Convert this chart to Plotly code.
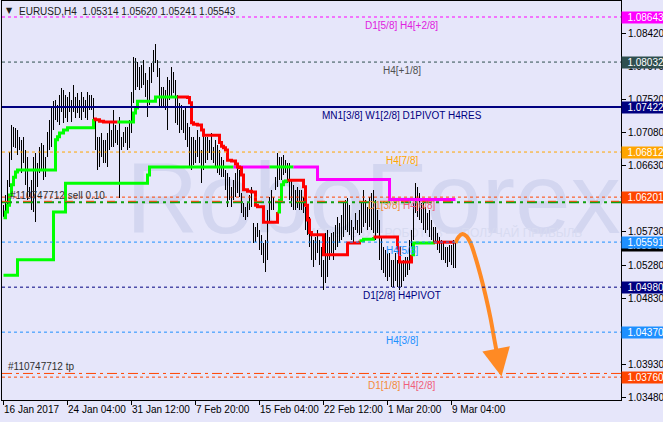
import plotly.graph_objects as go

# ---------------- data ----------------
header_text = "EURUSD,H4 \u00a01.05314 1.05620 1.05241 1.05543"

# H4 bars, one per 4 hours, first bar = 16 Jan 2017 20:00
highs = [
    1.0609, 1.0623, 1.0643, 1.0681, 1.0718, 1.0715, 1.0714, 1.0711, 1.0702, 1.0698,
    1.0702, 1.0684, 1.0674, 1.0634, 1.0643, 1.0674, 1.0680, 1.0666, 1.0688, 1.0694,
    1.0691, 1.0674, 1.0708, 1.0725, 1.0742, 1.0750, 1.0752, 1.0745, 1.0759, 1.0768,
    1.0765, 1.0759, 1.0756, 1.0763, 1.0752, 1.0772, 1.0756, 1.0761, 1.0752, 1.0763,
    1.0756, 1.0752, 1.0763, 1.0759, 1.0759, 1.0755, 1.0727, 1.0702, 1.0702, 1.0707,
    1.0698, 1.0698, 1.0707, 1.0721, 1.0711, 1.0738, 1.0718, 1.0711, 1.0729, 1.0702,
    1.0708, 1.0715, 1.0715, 1.0725, 1.0763, 1.0810, 1.0809, 1.0803, 1.0797, 1.0799,
    1.0806, 1.0788, 1.0779, 1.0797, 1.0802, 1.0820, 1.0828, 1.0806, 1.0795, 1.0769,
    1.0769, 1.0765, 1.0783, 1.0779, 1.0797, 1.0790, 1.0779, 1.0759, 1.0748, 1.0745,
    1.0738, 1.0742, 1.0721, 1.0715, 1.0702, 1.0702, 1.0698, 1.0711, 1.0702, 1.0684,
    1.0711, 1.0702, 1.0702, 1.0698, 1.0707, 1.0688, 1.0698, 1.0691, 1.0684, 1.0674,
    1.0670, 1.0657, 1.0653, 1.0647, 1.0634, 1.0643, 1.0653, 1.0661, 1.0657, 1.0626,
    1.0612, 1.0607, 1.0612, 1.0623, 1.0634, 1.0585, 1.0580, 1.0585, 1.0576, 1.0569,
    1.0558, 1.0562, 1.0603, 1.0620, 1.0630, 1.0620, 1.0647, 1.0680, 1.0674, 1.0674,
    1.0677, 1.0670, 1.0666, 1.0666, 1.0643, 1.0637, 1.0630, 1.0634, 1.0630, 1.0630,
    1.0620, 1.0607, 1.0603, 1.0593, 1.0572, 1.0562, 1.0566, 1.0576, 1.0562, 1.0552,
    1.0535, 1.0572, 1.0576, 1.0566, 1.0572, 1.0573, 1.0582, 1.0593, 1.0585, 1.0596,
    1.0612, 1.0616, 1.0619, 1.0609, 1.0589, 1.0580, 1.0599, 1.0589, 1.0603, 1.0612,
    1.0630, 1.0616, 1.0607, 1.0620, 1.0626, 1.0630, 1.0616, 1.0603, 1.0589, 1.0566,
    1.0552, 1.0548, 1.0544, 1.0544, 1.0535, 1.0535, 1.0544, 1.0535, 1.0531, 1.0531,
    1.0535, 1.0539, 1.0539, 1.0562, 1.0576, 1.0612, 1.0639, 1.0634, 1.0626, 1.0612,
    1.0616, 1.0607, 1.0599, 1.0603, 1.0589, 1.0580, 1.0580, 1.0572, 1.0566, 1.0562,
    1.0558, 1.0552, 1.0552, 1.0555, 1.0555, 1.0562, 1.05620,
]
lows = [
    1.0593, 1.0596, 1.0609, 1.0634, 1.0670, 1.0688, 1.0687, 1.0677, 1.0684, 1.0653,
    1.0666, 1.0637, 1.0616, 1.0620, 1.0603, 1.0600, 1.0586, 1.0634, 1.0653, 1.0657,
    1.0643, 1.0647, 1.0674, 1.0684, 1.0688, 1.0711, 1.0725, 1.0722, 1.0718, 1.0736,
    1.0721, 1.0727, 1.0722, 1.0736, 1.0722, 1.0736, 1.0727, 1.0734, 1.0727, 1.0725,
    1.0736, 1.0727, 1.0725, 1.0738, 1.0738, 1.0714, 1.0684, 1.0657, 1.0661, 1.0674,
    1.0666, 1.0666, 1.0661, 1.0684, 1.0688, 1.0688, 1.0694, 1.0691, 1.0619, 1.0684,
    1.0688, 1.0694, 1.0684, 1.0687, 1.0707, 1.0748, 1.0765, 1.0769, 1.0765, 1.0768,
    1.0772, 1.0756, 1.0729, 1.0745, 1.0775, 1.0790, 1.0802, 1.0783, 1.0741, 1.0742,
    1.0742, 1.0738, 1.0711, 1.0752, 1.0756, 1.0761, 1.0721, 1.0718, 1.0707, 1.0711,
    1.0707, 1.0698, 1.0688, 1.0661, 1.0657, 1.0664, 1.0666, 1.0674, 1.0666, 1.0639,
    1.0657, 1.0666, 1.0670, 1.0680, 1.0670, 1.0666, 1.0661, 1.0653, 1.0650, 1.0647,
    1.0647, 1.0630, 1.0607, 1.0616, 1.0607, 1.0616, 1.0620, 1.0626, 1.0620, 1.0599,
    1.0593, 1.0589, 1.0593, 1.0603, 1.0607, 1.0558, 1.0559, 1.0566, 1.0548, 1.0542,
    1.0531, 1.0519, 1.0535, 1.0585, 1.0603, 1.0603, 1.0630, 1.0634, 1.0643, 1.0643,
    1.0650, 1.0653, 1.0639, 1.0616, 1.0607, 1.0603, 1.0603, 1.0605, 1.0603, 1.0603,
    1.0599, 1.0576, 1.0569, 1.0552, 1.0535, 1.0525, 1.0535, 1.0544, 1.0528, 1.0512,
    1.0494, 1.0504, 1.0512, 1.0535, 1.0544, 1.0535, 1.0548, 1.0552, 1.0558, 1.0562,
    1.0566, 1.0576, 1.0573, 1.0569, 1.0562, 1.0558, 1.0576, 1.0572, 1.0569, 1.0572,
    1.0580, 1.0585, 1.0576, 1.0580, 1.0576, 1.0572, 1.0562, 1.0572, 1.0535, 1.0521,
    1.0517, 1.0512, 1.0507, 1.0512, 1.0498, 1.0498, 1.0507, 1.0498, 1.0494, 1.0498,
    1.0507, 1.0512, 1.0514, 1.0521, 1.0552, 1.0562, 1.0599, 1.0593, 1.0589, 1.0585,
    1.0576, 1.0572, 1.0576, 1.0566, 1.0562, 1.0558, 1.0558, 1.0548, 1.0544, 1.0535,
    1.0535, 1.0531, 1.0525, 1.0532, 1.0528, 1.0524, 1.05241,
]

date_tick_bars = [0, 32, 64, 96, 128, 160, 192, 224]
date_tick_labels = ["16 Jan 2017", "24 Jan 04:00", "31 Jan 12:00", "7 Feb 20:00",
                    "15 Feb 04:00", "22 Feb 12:00", "1 Mar 20:00", "9 Mar 04:00"]
price_ticks = [1.0842, 1.0797, 1.0752, 1.0708, 1.0663, 1.0618,
               1.0573, 1.0528, 1.0483, 1.0438, 1.0393, 1.0348]

# upper trend line (change points): bar index, value, state (g=up, r=down)
trend_bar = [0, 1, 2, 3, 4, 5, 6, 7, 26, 27, 28, 30, 32, 45, 46, 48, 50, 57, 65, 66, 67, 76,
             87, 92, 93, 94, 95, 97, 99, 100, 108, 109, 110, 111, 112, 114, 116, 117, 118,
             119, 120, 122, 124, 126, 127, 130, 137, 138, 139, 140, 141, 142, 150, 151, 152,
             153, 154, 160, 172, 178, 180, 185, 197, 198, 204, 205, 215, 226]
trend_val = [1.0592, 1.0600, 1.0609, 1.0623, 1.0637, 1.0647, 1.0654, 1.0657, 1.0698, 1.0702,
             1.0707, 1.0711, 1.0714, 1.0726, 1.0725, 1.0723, 1.0722, 1.0722, 1.0734, 1.0741,
             1.0750, 1.0756, 1.0756, 1.0755, 1.0748, 1.0721, 1.0719, 1.0718, 1.0711, 1.0704,
             1.0694, 1.0689, 1.0687, 1.0684, 1.0670, 1.0669, 1.0665, 1.0661, 1.0660, 1.0650,
             1.0630, 1.0628, 1.0627, 1.0609, 1.0607, 1.0586, 1.0600, 1.0616, 1.0637, 1.0641,
             1.0642, 1.0643, 1.0634, 1.0609, 1.0589, 1.0572, 1.0569, 1.0542, 1.0558, 1.0561,
             1.0563, 1.0566, 1.0551, 1.0532, 1.0542, 1.0558, 1.0559, 1.0559]
trend_state = list("gggggggggggggrrrrgggggrrrrrrrrrrrrrrrrrrrrrrrrgggggrrrrrrrrggrrrggrr")

# lower support line (change points)
support_bar = [0, 7, 25, 31, 72, 73, 115, 133, 145, 157, 193, 226]
support_val = [1.0514, 1.0535, 1.0600, 1.0639, 1.0650, 1.0661, 1.0661, 1.0661, 1.0661,
               1.0644, 1.0617, 1.0617]
support_state = list("ggggggmgmmmm")

# Murrey / pivot levels
level_prices = [1.08643, 1.08032, 1.07422, 1.06812, 1.06201, 1.05591, 1.04980, 1.04370, 1.03760]
level_names = [
    "D1[5/8] H4[+2/8]", "H4[+1/8]", "MN1[3/8] W1[2/8] D1PIVOT H4RES", "H4[7/8]",
    "D1[3/8] H4[6/8]", "H4[5/8]", "D1[2/8] H4PIVOT", "H4[3/8]", "D1[1/8] H4[2/8]",
]
current_price = 1.05543
order_open = 1.0613
order_tp = 1.0381
order_label = "#110747712 sell 0.10"
tp_label = "#110747712 tp"

# forecast arrow path (bar index, price)
forecast_bar = [226, 227.5, 229.5, 231.5, 233.5, 236, 238.5, 241, 243.5, 245.5, 246.4]
forecast_val = [1.0558, 1.0566, 1.0570, 1.0567, 1.0558, 1.0538, 1.0514, 1.0487, 1.0456, 1.0426, 1.0413]
forecast_tip = (249, 1.0377)

# ---------------- styles ----------------
BG = "#e6e6fa"
FONT = "Liberation Sans, Arial, sans-serif"
state_color = {"g": "#00ff00", "r": "#ff0000", "m": "#ff00ff"}
level_style = [
    dict(color="#ff00ff", dash="3px,3px", width=1, box="#ff00ff", text="#e020e0"),
    dict(color="#2f4f4f", dash="3px,3px", width=1, box="#2f4f4f", text="#505050"),
    dict(color="#000080", dash="solid", width=2, box="#000080", text="#000080"),
    dict(color="#ffa500", dash="3px,3px", width=1, box="#ffa500", text="#ffa500"),
    dict(color="#ff4500", dash="3px,3px", width=1, box="#ff4500", text=None),
    dict(color="#1e90ff", dash="3px,3px", width=1, box="#1e90ff", text="#1e90ff"),
    dict(color="#000080", dash="3px,3px", width=1, box="#000080", text="#000080"),
    dict(color="#1e90ff", dash="3px,3px", width=1, box="#1e90ff", text="#1e90ff"),
    dict(color="#ff4500", dash="3px,3px", width=1, box="#ff4500", text=None),
]

fig = go.Figure()

# watermark (below traces)
fig.add_shape(type="rect", xref="paper", yref="paper", x0=0.22, x1=0.98, y0=0.44, y1=0.62,
              line=dict(width=0), fillcolor="rgba(0,0,0,0)", layer="below",
              label=dict(text="RoboForex", textposition="middle center",
                         font=dict(size=100, color="#d3d6f0", family=FONT)))
fig.add_shape(type="rect", xref="paper", yref="paper", x0=0.45, x1=0.98, y0=0.40, y1=0.44,
              line=dict(width=0), fillcolor="rgba(0,0,0,0)", layer="below",
              label=dict(text="ИСПОЛЬЗУЙ РОБОТОВ — ПОЛУЧАЙ ПРИБЫЛЬ", textposition="middle center",
                         font=dict(size=12, color="#d8dbf1", family=FONT)))

# price bars
bx, by = [], []
for i, (h, l) in enumerate(zip(highs, lows)):
    bx += [i, i, None]
    by += [l, h, None]
fig.add_trace(go.Scatter(x=bx, y=by, mode="lines", line=dict(color="black", width=1),
                         hoverinfo="skip", showlegend=False))


def add_state_line(bars, vals, states, width):
    n = len(bars)
    k = 0
    while k < n - 1:
        s = states[k]
        j = k
        while j < n - 1 and states[j] == s:
            j += 1
        fig.add_trace(go.Scatter(x=bars[k:j + 1], y=vals[k:j + 1], mode="lines",
                                 line=dict(color=state_color[s], width=width, shape="hv"),
                                 hoverinfo="skip", showlegend=False))
        k = j


add_state_line(support_bar, support_val, support_state, 3)
add_state_line(trend_bar, trend_val, trend_state, 3)

# forecast arrow
fig.add_trace(go.Scatter(x=forecast_bar, y=forecast_val, mode="lines",
                         line=dict(color="#ff8a24", width=4, shape="spline"),
                         hoverinfo="skip", showlegend=False))
fig.add_annotation(x=forecast_tip[0], y=forecast_tip[1], xref="x", yref="y",
                   ax=forecast_bar[-1], ay=forecast_val[-1], axref="x", ayref="y",
                   showarrow=True, arrowhead=2, arrowsize=1.4, arrowwidth=4,
                   arrowcolor="#ff8a24", standoff=0, text="")

# level lines
for p, st in zip(level_prices, level_style):
    fig.add_shape(type="line", xref="paper", yref="y", x0=0, x1=1, y0=p, y1=p,
                  line=dict(color=st["color"], width=st["width"], dash=st["dash"]))

# order lines
fig.add_shape(type="line", xref="paper", yref="y", x0=0, x1=1, y0=order_open, y1=order_open,
              line=dict(color="#10a010", width=2, dash="10px,4px,3px,4px"))
fig.add_shape(type="line", xref="paper", yref="y", x0=0, x1=1, y0=order_open + 0.00014,
              y1=order_open + 0.00014,
              line=dict(color="#ff4500", width=1, dash="8px,13px"))
fig.add_shape(type="line", xref="paper", yref="y", x0=0, x1=1, y0=order_tp, y1=order_tp,
              line=dict(color="#ff4500", width=1, dash="10px,4px,3px,4px"))

# level name labels
LABEL_BAR = 199
for p, name, st in zip(level_prices, level_names, level_style):
    if st["text"] is None:
        d1, h4 = name.split(" ")
        txt = f"<span style='color:#f58a3a'>{d1}</span> <span style='color:#f0607a'>{h4}</span>"
        col = "#f58a3a"
    else:
        txt = name
        col = st["text"]
    fig.add_annotation(x=LABEL_BAR, y=p, xref="x", yref="y", text=txt, showarrow=False,
                       yshift=-8, font=dict(size=10, color=col, family=FONT))

# order labels
fig.add_annotation(x=0, y=order_open, xref="paper", yref="y", xanchor="left", text=order_label,
                   showarrow=False, xshift=6, yshift=7, font=dict(size=10, color="#303030", family=FONT))
fig.add_annotation(x=0, y=order_tp, xref="paper", yref="y", xanchor="left", text=tp_label,
                   showarrow=False, xshift=4, yshift=7, font=dict(size=10, color="#303030", family=FONT))

# right-side price boxes
fig.add_annotation(x=1, y=current_price, xref="paper", yref="y", xanchor="left",
                   text=f"{current_price:.5f}", showarrow=False, bgcolor="black",
                   width=42, height=11, align="right", borderpad=0,
                   font=dict(size=10, color="white", family=FONT))
for p, st in zip(level_prices, level_style):
    fig.add_annotation(x=1, y=p, xref="paper", yref="y", xanchor="left",
                       text=f"{p:.5f}", showarrow=False, bgcolor=st["box"],
                       width=42, height=11, align="right", borderpad=0,
                       font=dict(size=10, color="white", family=FONT))

# date labels (left aligned at tick, MT4 style)
for b, t in zip(date_tick_bars, date_tick_labels):
    fig.add_annotation(x=b, y=0, xref="x", yref="paper", xanchor="left", yanchor="top",
                       text=t, showarrow=False, xshift=-2, yshift=-2,
                       font=dict(size=10, color="black", family=FONT))

# header
fig.add_annotation(x=0, y=1, xref="paper", yref="paper", xanchor="left", yanchor="top",
                   text="▼", showarrow=False, xshift=2, yshift=-3,
                   font=dict(size=8, color="#202020", family="DejaVu Sans"))
fig.add_annotation(x=0, y=1, xref="paper", yref="paper", xanchor="left", yanchor="top",
                   text=header_text, showarrow=False, xshift=15, yshift=-3,
                   font=dict(size=10, color="#202020", family=FONT))

fig.update_layout(
    width=663, height=422,
    margin=dict(l=2, r=42, t=1, b=22),
    paper_bgcolor=BG, plot_bgcolor=BG,
    showlegend=False,
    xaxis=dict(range=[-0.75, 308.75], showgrid=False, zeroline=False,
               tickvals=date_tick_bars, showticklabels=False, ticks="outside", ticklen=4,
               tickcolor="black", showline=True, linecolor="black", linewidth=1, mirror=True),
    yaxis=dict(range=[1.0345, 1.0886], side="right", showgrid=False, zeroline=False,
               tickvals=price_ticks, ticktext=[f"{v:.5f}" for v in price_ticks],
               ticks="outside", ticklen=4, tickcolor="black", automargin=False,
               tickfont=dict(size=10, color="black", family=FONT),
               showline=True, linecolor="black", linewidth=1, mirror=True),
)

post = (
    "document.body.style.margin='0px';document.body.style.overflow='hidden';"
    "var t=document.querySelectorAll('.scatterlayer .trace');"
    "if(t.length){t[0].querySelectorAll('path').forEach(function(p){p.style.shapeRendering='crispEdges';});}"
)
fig.write_html("out.html", config={"displayModeBar": False}, post_script=post)
